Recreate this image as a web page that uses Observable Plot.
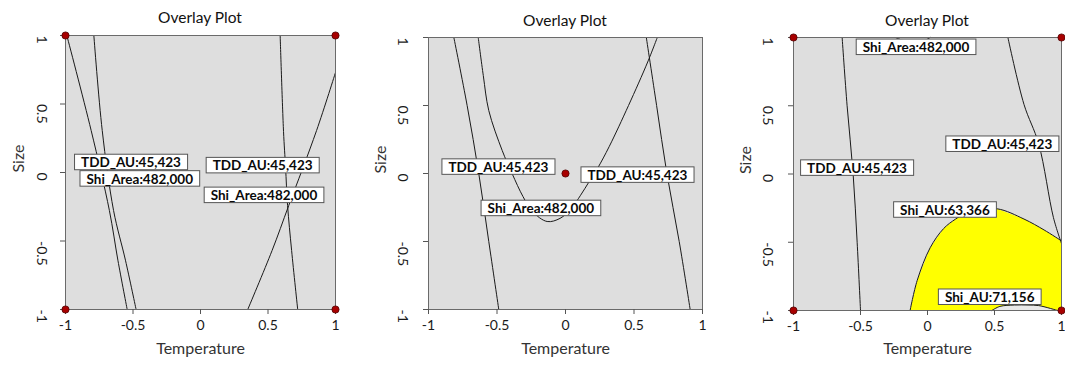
<!DOCTYPE html>
<html><head><meta charset="utf-8">
<script src="https://cdn.jsdelivr.net/npm/d3@7"></script>
<script src="https://cdn.jsdelivr.net/npm/@observablehq/plot@0.6"></script>
<style>
body{margin:0;background:#fff;font-family:Lato,"Open Sans",sans-serif;}
#wrap{position:relative;width:1065px;height:368px;overflow:hidden;background:#fff}
.panel{position:absolute;top:0;width:355px;height:368px}
.panel svg{position:absolute;left:0;top:0}
.title{position:absolute;font-size:15.5px;line-height:18px;text-align:center;color:#111;font-family:Lato,sans-serif;z-index:2}
</style></head><body><div id="wrap"></div>
<script>
// ---- shared text / ticks ----
const titleText = "Overlay Plot";
const xLabel = "Temperature";
const yLabel = "Size";
const axisTicks = [-1, -0.5, 0, 0.5, 1];

// ---- panel 1 ----
const p1TddLeft = [[-0.79,1],[-0.728,0.307],[-0.644,-0.277],[-0.556,-0.64],[-0.477,-1]];
const p1ShiAreaLeft = [[-0.99,1],[-0.81,0.307],[-0.675,-0.277],[-0.612,-0.64],[-0.543,-1]];
const p1TddRight = [[0.59,1],[0.615,0.3],[0.63,0.04],[0.645,-0.24],[0.675,-0.57],[0.72,-1]];
const p1ShiAreaRight = [[0.35,-1],[0.53,-0.57],[0.654,-0.24],[0.86,0.307],[1.0,0.73]];
const p1Labels = ["TDD_AU:45,423","Shi_Area:482,000","TDD_AU:45,423","Shi_Area:482,000"];
const p1LabelX = [-0.515,-0.45,0.46,0.47];
const p1LabelY = [0.07,-0.05,0.047,-0.17];
const p1PointX = [-1,1,-1,1];
const p1PointY = [1,1,-1,-1];

// ---- panel 2 ----
const p2TddLeft = [[-0.815,1],[-0.718,0.5],[-0.633,0],[-0.56,-0.5],[-0.487,-1]];
const p2ShiArea = [[-0.637,1],[-0.60,0.72],[-0.56,0.463],[-0.462,0.169],[-0.39,0.0],[-0.31,-0.17],[-0.24,-0.28],[-0.134,-0.353],[-0.04,-0.33],[0.04,-0.26],[0.11,-0.16],[0.17,-0.064],[0.235,0.04],[0.32,0.2],[0.46,0.5],[0.6,0.82],[0.67,1]];
const p2TddRight = [[0.59,1],[0.665,0.5],[0.74,0],[0.83,-0.5],[0.91,-1]];
const p2Labels = ["TDD_AU:45,423","TDD_AU:45,423","Shi_Area:482,000"];
const p2LabelX = [-0.49,0.525,-0.18];
const p2LabelY = [0.044,-0.015,-0.26];
const p2PointX = [0];
const p2PointY = [0];

// ---- panel 3 ----
const p3TddLeft = [[-0.637,1],[-0.6,0.5],[-0.555,0],[-0.525,-0.5],[-0.5,-1]];
const p3TddRight = [[0.6,1],[0.72,0.51],[0.83,0.22],[0.94,-0.32],[1.0,-0.51]];
const p3ShiArea = [[-0.24,1],[-0.17,0.975],[-0.1,0.965],[-0.03,0.975],[0.02,1]];
const p3ShiAU63 = [[-0.13,-1],[-0.077,-0.78],[0.02,-0.54],[0.12,-0.4],[0.21,-0.33],[0.32,-0.27],[0.52,-0.255],[0.72,-0.33],[0.87,-0.41],[1.0,-0.49]];
const p3ShiAU71 = [[0.48,-1],[0.54,-0.97],[0.65,-0.96],[0.75,-0.96],[0.83,-0.964],[0.97,-1]];
const p3Labels = ["Shi_Area:482,000","TDD_AU:45,423","TDD_AU:45,423","Shi_AU:63,366","Shi_AU:71,156"];
const p3LabelX = [-0.086,-0.526,0.558,0.13,0.464];
const p3LabelY = [0.925,0.04,0.215,-0.267,-0.906];
const p3PointX = [-1,1,-1,1];
const p3PointY = [1,1,-1,-1];

const fmt = d => String(d);
const px = d => d[0], py = d => d[1];

function contour(arr) {
  return Plot.line(arr, {x: px, y: py, stroke: "#1a1a1a", strokeWidth: 1, curve: "catmull-rom"});
}

function makePanel(cfg) {
  const marks = [Plot.frame({fill: "#dedede"})];
  (cfg.fills || []).forEach(f => marks.push(Plot.line(f.data, {x: px, y: py, fill: f.color, stroke: "none"})));
  cfg.lines.forEach(l => marks.push(contour(l)));
  marks.push(
    Plot.frame({stroke: "#6a6a6a", strokeWidth: 1}),
    Plot.axisX({ticks: axisTicks, tickSize: 5, tickPadding: 6, tickFormat: fmt, label: null, stroke: "#555", fill: "#1a1a1a", fontSize: 14}),
    Plot.axisY({ticks: axisTicks, tickSize: 5, tickFormat: () => "", label: null, stroke: "#555"}),
    Plot.text(axisTicks, {y: d => d, text: fmt, frameAnchor: "left", dx: cfg.tickDx, rotate: 90, fontSize: 14, fill: "#1a1a1a"}),
    Plot.text([yLabel], {frameAnchor: "left", dx: cfg.sizeDx, rotate: -90, fontSize: 16, fill: "#333"}),
    Plot.text([xLabel], {frameAnchor: "bottom", dy: cfg.tempDy, fontSize: 16, fill: "#333"}),
    Plot.dot(cfg.pointX, {x: d => d, y: (d, i) => cfg.pointY[i], r: 3.6, fill: "#a80000", stroke: "#500000", strokeWidth: 0.8}),
    Plot.text(cfg.labels, {x: (d, i) => cfg.labelX[i], y: (d, i) => cfg.labelY[i], text: d => d, fontWeight: "bold", fontSize: 13.5, fill: "#0a0a0a"})
  );
  const svg = Plot.plot({
    width: 355, height: 368,
    marginLeft: cfg.ml, marginRight: cfg.mr, marginTop: cfg.mt, marginBottom: cfg.mb,
    x: {domain: [-1, 1], axis: null},
    y: {domain: [-1, 1], axis: null},
    style: {fontFamily: "Lato, 'Open Sans', sans-serif", fontSize: "13px", background: "transparent", overflow: "visible"},
    marks
  });
  const panel = document.createElement("div");
  panel.className = "panel";
  panel.style.left = cfg.left + "px";
  panel.appendChild(svg);
  const t = document.createElement("div");
  t.className = "title";
  t.textContent = titleText;
  t.style.left = cfg.ml + "px";
  t.style.width = (355 - cfg.ml - cfg.mr) + "px";
  t.style.top = cfg.titleTop + "px";
  panel.appendChild(t);
  document.getElementById("wrap").appendChild(panel);
  // white boxes behind contour labels
  const labelSet = new Set(cfg.labels);
  const texts = Array.from(svg.querySelectorAll("text")).filter(tx => labelSet.has(tx.textContent));
  const groups = new Map();
  texts.forEach(tx => {
    const b = tx.getBBox();
    const r = document.createElementNS("http://www.w3.org/2000/svg", "rect");
    r.setAttribute("x", b.x - 6.5);
    r.setAttribute("y", b.y);
    r.setAttribute("width", b.width + 13);
    r.setAttribute("height", b.height - 0.5);
    r.setAttribute("fill", "#ffffff");
    r.setAttribute("stroke", "#555");
    r.setAttribute("stroke-width", "1");
    const tr = tx.getAttribute("transform");
    if (tr) r.setAttribute("transform", tr);
    const g = tx.parentNode;
    if (!groups.has(g)) groups.set(g, []);
    groups.get(g).push(r);
  });
  groups.forEach((rects, g) => rects.slice().reverse().forEach(r => g.insertBefore(r, g.firstChild)));
}

makePanel({left: 0, ml: 65, mr: 20, mt: 35, mb: 59, titleTop: 8, tickDx: -24, sizeDx: -47, tempDy: 44,
  lines: [p1TddLeft, p1ShiAreaLeft, p1TddRight, p1ShiAreaRight],
  labels: p1Labels, labelX: p1LabelX, labelY: p1LabelY, pointX: p1PointX, pointY: p1PointY});

makePanel({left: 355, ml: 73, mr: 8, mt: 37, mb: 59, titleTop: 11, tickDx: -26, sizeDx: -48, tempDy: 44,
  lines: [p2TddLeft, p2ShiArea, p2TddRight],
  labels: p2Labels, labelX: p2LabelX, labelY: p2LabelY, pointX: p2PointX, pointY: p2PointY});

makePanel({left: 710, ml: 83, mr: 4, mt: 37, mb: 58, titleTop: 11, tickDx: -26, sizeDx: -48, tempDy: 43,
  fills: [
    {data: p3ShiAU63.concat([[1, -1]], p3ShiAU71.slice().reverse()), color: "#ffff00"},
    {data: p3ShiAU71, color: "#e9e9e9"}
  ],
  lines: [p3TddLeft, p3TddRight, p3ShiArea, p3ShiAU63, p3ShiAU71],
  labels: p3Labels, labelX: p3LabelX, labelY: p3LabelY, pointX: p3PointX, pointY: p3PointY});
</script>
</body></html>
